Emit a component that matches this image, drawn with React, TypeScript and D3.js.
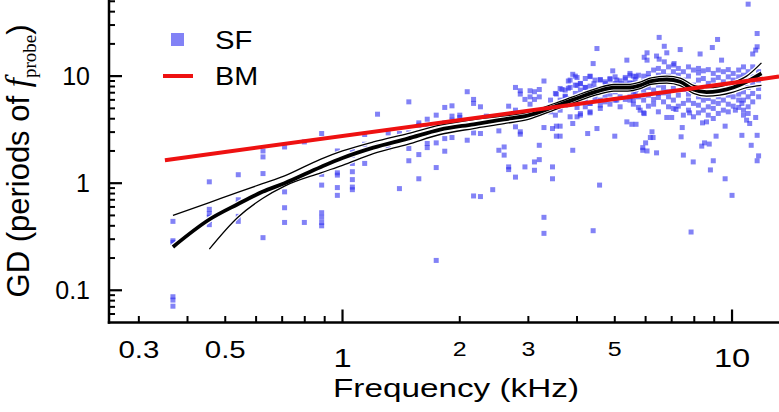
import * as d3 from "d3";
import { useEffect, useRef } from "react";

// SF group delay, grouped by probe frequency (kHz) -> GD values (periods of f_probe)
const sfSparseLow: [number, number[]][] = [
  [0.367, [0.44, 0.29, 0.28, 0.087, 0.081, 0.071]],
  [0.455, [1.03, 0.57, 0.52, 0.48, 0.45, 0.41]],
  [0.54, [1.2, 0.7, 0.65, 0.49, 0.44]],
  [0.625, [2.0, 1.76, 1.23, 0.31]],
  [0.71, [2.18, 0.83, 0.59, 0.43]],
  [0.798, [2.43, 0.43]],
  [0.884, [2.91, 1.21, 0.96, 0.53, 0.48, 0.43, 0.4]],
  [0.97, [2.0, 1.25, 1.19, 0.91, 0.77]],
  [1.06, [2.03, 1.83, 1.53, 1.28, 1.08, 0.92, 0.87]],
  [1.14, [2.85, 2.31, 1.53]],
  [1.23, [4.41, 2.22]],
  [1.31, [2.95, 2.11]],
  [1.4, [2.91, 0.89]],
  [1.48, [5.75, 2.95, 2.11, 1.62]],
  [1.57, [3.66, 3.48, 1.85, 1.1]],
  [1.65, [3.96, 3.41, 2.35, 2.15]],
  [1.74, [4.32, 3.41, 2.38, 1.4, 0.19]],
  [1.83, [5.1, 3.66, 2.61, 1.99]],
  [1.91, [5.28, 4.23, 3.88, 2.67]],
  [2.0, [4.32, 4.11]],
  [2.09, [7.15, 3.82, 2.52]],
  [2.17, [6.06, 5.56, 2.95, 0.76]],
  [2.26, [5.17, 2.91, 0.75]],
  [2.34, [4.23]],
  [2.43, [0.87]],
  [2.52, [3.08, 2.03]],
  [2.6, [2.18, 1.83]],
  [2.67, [5.24, 1.42, 1.34]],
];

const sfSparseMid: [number, number[]][] = [
  [2.78, [7.84, 4.81, 3.36, 1.14]],
  [2.86, [7.3, 6.8, 3.02, 2.87]],
  [2.94, [6.06, 1.42]],
  [3.03, [7.3, 6.4, 5.47]],
  [3.11, [7.15, 6.06, 1.58, 1.32]],
  [3.2, [7.5, 6.4, 2.26, 1.66]],
  [3.29, [9.0, 3.31, 0.48, 0.34]],
  [3.46, [3.24, 1.42, 1.1]],
  [3.54, [6.8, 3.41, 2.75]],
  [3.62, [3.41, 2.75]],
  [3.66, [7.5]],
  [3.73, [6.5, 5.56]],
  [3.8, [9.0, 7.7]],
  [3.9, [10.4, 3.61, 2.03]],
  [4.0, [9.7, 8.2, 5.97, 5.1, 4.17]],
  [4.08, [8.5, 6.4, 4.47]],
  [4.2, [7.84, 5.97]],
  [4.26, [2.91]],
  [4.32, [9.9, 5.56, 4.54]],
  [4.4, [13.1, 0.36]],
  [4.42, [8.5, 7.4]],
  [4.5, [18.1, 3.24]],
  [4.57, [0.96]],
  [4.59, [9.3, 5.35]],
  [4.73, [8.5]],
  [4.86, [9.5, 7.95]],
  [4.94, [11.2]],
  [5.0, [2.75]],
  [5.06, [9.2, 5.97]],
  [5.2, [8.5]],
  [5.32, [9.4]],
  [5.37, [14.1, 3.74]],
  [5.47, [10.6, 8.5, 6.4]],
  [5.67, [9.9, 7.5, 3.55]],
];

const sfSparseHigh: [number, number[]][] = [
  [5.53, [3.55]],
  [5.81, [4.81]],
  [5.9, [2.15, 2.03]],
  [5.95, [15.0, 4.47]],
  [6.0, [2.38]],
  [6.05, [16.5, 14.1, 2.0]],
  [6.17, [2.67]],
  [6.23, [3.02]],
  [6.27, [2.67]],
  [6.4, [15.4, 1.92]],
  [6.5, [23.0, 14.4]],
  [6.7, [19.0, 13.6]],
  [6.8, [16.5, 4.11]],
  [7.0, [4.11]],
  [7.1, [13.1]],
  [7.18, [4.88]],
  [7.36, [17.7]],
  [7.4, [2.71]],
  [7.45, [3.31]],
  [7.5, [1.83]],
  [7.78, [4.54]],
  [7.85, [0.35]],
  [7.95, [1.58]],
  [8.28, [16.1]],
  [8.36, [2.22]],
  [8.4, [3.66]],
  [8.5, [2.38]],
  [8.6, [3.74]],
  [8.74, [2.32]],
  [8.8, [1.33]],
  [8.9, [18.5]],
  [8.95, [1.62]],
  [9.1, [2.75]],
  [9.18, [22.0]],
  [9.4, [14.1]],
  [9.6, [3.41, 1.1]],
  [10.0, [0.77]],
  [10.2, [4.81]],
  [10.6, [5.56, 2.8]],
  [10.7, [4.32]],
  [10.9, [3.88]],
  [11.0, [47.0]],
  [11.1, [3.61]],
  [11.2, [2.26]],
  [11.3, [16.1]],
  [11.5, [17.5, 4.11]],
  [11.6, [25.0, 18.8, 2.8, 1.62]],
  [11.7, [1.8]],
];

// the crowded cloud around the trend, 3.4 - 5.7 kHz
const sfDenseMid: [number, number[]][] = [
  [3.42, [5.97, 4.64]],
  [3.52, [6.89, 5.17, 4.32]],
  [3.62, [7.67, 5.97, 4.81]],
  [3.73, [7.4, 6.41, 5.35]],
  [3.84, [9.18, 7.84, 6.19, 4.17]],
  [3.96, [10.0, 8.24, 6.89, 5.56]],
  [4.08, [8.55, 7.4, 5.97, 4.32]],
  [4.2, [9.5, 7.84, 6.41, 5.17]],
  [4.32, [10.0, 8.07, 6.89, 5.56, 4.64]],
  [4.45, [9.18, 7.67, 6.19]],
  [4.59, [9.18, 7.51, 5.97, 4.99]],
  [4.72, [8.85, 7.84, 6.64, 5.75]],
  [4.86, [9.3, 8.24, 6.79, 5.47]],
  [5.01, [9.85, 8.55, 7.13, 5.97]],
  [5.16, [9.03, 7.84, 6.41, 5.17]],
  [5.32, [9.72, 8.42, 7.4, 6.06]],
  [5.47, [10.2, 8.67, 7.67, 5.97]],
  [5.64, [9.3, 8.07, 6.79]],
];

// the crowded cloud, 5.5 - 12 kHz
const sfDenseHigh: [number, number[]][] = [
  [5.58, [10.0, 8.55, 7.13, 5.97, 5.47]],
  [5.75, [10.2, 7.94, 6.41, 5.1]],
  [5.93, [10.0, 8.85, 7.4, 5.97, 4.54]],
  [6.1, [10.6, 9.72, 7.84, 6.64, 5.24]],
  [6.29, [11.4, 9.18, 7.4, 6.06, 5.47]],
  [6.47, [11.8, 10.2, 8.24, 6.89, 6.32, 4.64]],
  [6.67, [11.0, 7.84, 6.98, 5.75]],
  [6.87, [12.2, 10.0, 7.13, 6.41, 5.17]],
  [7.07, [12.7, 11.0, 7.67, 5.97, 4.99]],
  [7.28, [11.8, 10.2, 8.55, 6.64, 5.24]],
  [7.5, [11.0, 9.18, 7.51, 5.56, 4.32]],
  [7.73, [12.2, 10.0, 6.79, 5.97, 4.81]],
  [7.96, [11.4, 8.24, 7.13, 5.56, 4.17]],
  [8.2, [11.8, 10.7, 9.18, 6.41, 5.35, 4.54]],
  [8.44, [11.2, 9.5, 7.67, 6.89, 5.97, 4.81]],
  [8.69, [11.5, 8.55, 7.13, 6.19, 5.17, 4.32]],
  [8.95, [10.6, 9.18, 7.67, 6.79, 5.75, 4.99, 4.02]],
  [9.22, [11.4, 9.72, 7.4, 6.41, 5.56, 4.48]],
  [9.5, [11.0, 8.85, 7.13, 5.97, 4.81]],
  [9.78, [11.5, 9.85, 7.94, 6.64, 5.47, 4.64]],
  [10.07, [10.6, 9.18, 7.84, 6.41, 5.24]],
  [10.4, [11.4, 9.85, 8.24, 6.79, 5.97, 5.1]],
  [10.7, [12.2, 10.2, 8.55, 7.13, 5.97, 4.81]],
  [11.0, [11.0, 9.18, 7.84, 6.41, 5.17, 4.48]],
  [11.3, [12.2, 9.85, 8.42, 6.89, 5.75]],
  [11.7, [11.0, 9.18, 7.67, 6.41]],
];

// BM: straight power-law fit (end points)
const bmFreq = [0.35, 13.2];
const bmGD = [1.64, 9.9];

// SF trend (thick) with its confidence limits (thin)
const trendFreq = [0.367, 0.455, 0.538, 0.623, 0.71, 0.88, 1.0, 1.2, 1.47, 1.78, 2.17, 2.6, 3.0, 3.5, 3.9, 4.5, 4.97, 5.4, 5.81, 6.2, 6.8, 7.36, 7.96, 8.6, 9.3, 10.07, 10.9, 11.9];
const trendMean = [0.254, 0.458, 0.636, 0.83, 1.0, 1.42, 1.72, 2.15, 2.61, 3.17, 3.55, 3.95, 4.3, 5.2, 6.0, 7.2, 7.8, 7.8, 8.2, 9.0, 9.3, 8.85, 7.5, 7.1, 7.3, 7.84, 8.85, 10.6];
const trendUpper = [0.5, 0.66, 0.82, 0.99, 1.17, 1.68, 2.0, 2.43, 2.91, 3.48, 3.93, 4.25, 4.6, 5.55, 6.4, 7.7, 8.35, 8.35, 8.8, 9.65, 10.0, 9.6, 8.2, 7.8, 8.0, 8.7, 10.0, 13.3];
const trendLower = [NaN, 0.242, 0.478, 0.72, 0.94, 1.25, 1.47, 1.89, 2.31, 2.85, 3.24, 3.6, 3.95, 4.85, 5.6, 6.7, 7.25, 7.25, 7.65, 8.4, 8.6, 8.15, 6.9, 6.5, 6.65, 7.1, 7.8, 8.2];

const xMajorTicks = [1, 10];
const xMinorTicks = [0.3, 0.4, 0.5, 0.6, 0.7, 0.8, 0.9, 2, 3, 4, 5, 6, 7, 8, 9];
const xTickLabels = [0.3, 0.5, 1, 2, 3, 5, 10];
const yMajorTicks = [0.1, 1, 10];
const yMinorTicks = [0.06, 0.07, 0.08, 0.09, 0.2, 0.3, 0.4, 0.5, 0.6, 0.7, 0.8, 0.9, 2, 3, 4, 5, 6, 7, 8, 9, 20, 30, 40, 50];
const yTickLabels = ["0.1", "1", "10"];

export default function App() {
  const ref = useRef<SVGSVGElement>(null);

  useEffect(() => {
    const width = 779;
    const height = 412;
    const left = 109;
    const right = 779;
    const bottom = 322.5;

    const svg = d3.select(ref.current);
    svg.selectAll("*").remove();
    svg.attr("width", width).attr("height", height);

    const x = d3.scaleLog().domain([0.25, 13.2]).range([108, right]);
    const y = d3.scaleLog().domain([0.05, 51.4]).range([bottom, 0]);

    const font = "'Liberation Sans', Arial, sans-serif";
    const serif = "'Liberation Serif', 'DejaVu Serif', serif";
    const blue = "#2f2ff0";

    /* ---------------- SCATTER ---------------- */
    const sfPoints = [...sfSparseLow, ...sfSparseMid, ...sfSparseHigh, ...sfDenseMid, ...sfDenseHigh]
      .flatMap(([f, gds]) => gds.map(g => [f, g] as [number, number]));

    svg.append("g")
      .selectAll("rect")
      .data(sfPoints)
      .enter()
      .append("rect")
      .attr("x", d => x(d[0]) - 2.5)
      .attr("y", d => y(d[1]) - 2.5)
      .attr("width", 5)
      .attr("height", 5)
      .attr("fill", blue)
      .attr("fill-opacity", 0.6);

    /* ---------------- TREND BUNDLE ---------------- */
    const trend = trendFreq.map((f, i) => ({
      f,
      mean: trendMean[i],
      upper: trendUpper[i],
      lower: trendLower[i],
    }));
    const lineFor = (key: "mean" | "upper" | "lower") =>
      d3.line<any>()
        .defined(d => !isNaN(d[key]))
        .x(d => x(d.f))
        .y(d => y(d[key]))
        .curve(d3.curveMonotoneX);

    const bands: { key: "mean" | "upper" | "lower"; w: number }[] = [
      { key: "upper", w: 1.3 },
      { key: "lower", w: 1.3 },
      { key: "mean", w: 3.8 },
    ];
    const tg = svg.append("g").attr("fill", "none");
    bands.forEach(b => {
      tg.append("path")
        .attr("d", lineFor(b.key)(trend))
        .attr("stroke", "#fff")
        .attr("stroke-width", b.w + 2.4);
    });
    bands.forEach(b => {
      tg.append("path")
        .attr("d", lineFor(b.key)(trend))
        .attr("stroke", "#000")
        .attr("stroke-width", b.w);
    });

    /* ---------------- BM LINE ---------------- */
    svg.append("path")
      .datum(bmFreq.map((f, i) => [f, bmGD[i]] as [number, number]))
      .attr("d", d3.line<[number, number]>().x(d => x(d[0])).y(d => y(d[1])))
      .attr("fill", "none")
      .attr("stroke", "#ee1111")
      .attr("stroke-width", 4);

    /* ---------------- AXES ---------------- */
    const ax = svg.append("g").attr("stroke", "#000");
    ax.append("line").attr("x1", left).attr("x2", left).attr("y1", 0).attr("y2", bottom + 1.2).attr("stroke-width", 2.5);
    ax.append("line").attr("x1", left - 1.2).attr("x2", right).attr("y1", bottom).attr("y2", bottom).attr("stroke-width", 2.5);

    ax.selectAll(".ymaj").data(yMajorTicks).enter().append("line")
      .attr("x1", left).attr("x2", left + 13).attr("y1", d => y(d)).attr("y2", d => y(d)).attr("stroke-width", 2.2);
    ax.selectAll(".ymin").data(yMinorTicks).enter().append("line")
      .attr("x1", left).attr("x2", left + 6).attr("y1", d => y(d)).attr("y2", d => y(d)).attr("stroke-width", 2);
    ax.selectAll(".xmaj").data(xMajorTicks).enter().append("line")
      .attr("x1", d => x(d)).attr("x2", d => x(d)).attr("y1", bottom).attr("y2", bottom - 13).attr("stroke-width", 2.2);
    ax.selectAll(".xmin").data(xMinorTicks).enter().append("line")
      .attr("x1", d => x(d)).attr("x2", d => x(d)).attr("y1", bottom).attr("y2", bottom - 6.5).attr("stroke-width", 2);

    /* ---------------- TICK LABELS ---------------- */
    svg.append("g")
      .selectAll("text")
      .data(yTickLabels)
      .enter()
      .append("text")
      .attr("x", 90)
      .attr("y", d => y(+d) + 9)
      .attr("text-anchor", "end")
      .attr("font-family", font)
      .attr("font-size", 25)
      .text(d => d);

    svg.append("g")
      .selectAll("text")
      .data(xTickLabels)
      .enter()
      .append("text")
      .attr("transform", d => {
        const big = d === 1 || d === 10;
        const base = big ? 366.5 : d < 1 ? 358 : 356;
        return `translate(${x(d)},${base}) scale(1.28,1)`;
      })
      .attr("text-anchor", "middle")
      .attr("font-family", font)
      .attr("font-size", d => (d === 1 || d === 10 ? 25.5 : d < 1 ? 23 : 19.5))
      .text(d => String(d));

    /* ---------------- AXIS TITLES ---------------- */
    svg.append("text")
      .attr("transform", "translate(456,397) scale(1.28,1)")
      .attr("text-anchor", "middle")
      .attr("font-family", font)
      .attr("font-size", 26)
      .text("Frequency (kHz)");

    // rotated title, centred on the plot height
    const yt = svg.append("text")
      .attr("transform", "translate(29,161) rotate(-90)")
      .attr("text-anchor", "middle")
      .attr("font-family", font)
      .attr("font-size", 31);
    yt.append("tspan").text("GD (periods of ");
    yt.append("tspan")
      .attr("font-family", serif)
      .attr("font-style", "italic")
      .attr("font-size", 33)
      .text("f");
    yt.append("tspan")
      .attr("font-family", serif)
      .attr("font-size", 19)
      .attr("dy", 7)
      .text("probe");
    yt.append("tspan").attr("dy", -7).text(")");

    /* ---------------- LEGEND ---------------- */
    svg.append("rect")
      .attr("x", 171).attr("y", 33).attr("width", 13).attr("height", 13)
      .attr("fill", blue).attr("fill-opacity", 0.6);
    svg.append("line")
      .attr("x1", 163).attr("x2", 193).attr("y1", 76).attr("y2", 76)
      .attr("stroke", "#ee1111").attr("stroke-width", 4);
    svg.append("text")
      .attr("transform", "translate(215,49) scale(1.17,1)")
      .attr("font-family", font).attr("font-size", 25).text("SF");
    svg.append("text")
      .attr("transform", "translate(215,85) scale(1.15,1)")
      .attr("font-family", font).attr("font-size", 25).text("BM");
  }, []);

  return (
    <svg
      ref={ref}
      style={{ position: "absolute", left: 0, top: 0, background: "#fff", overflow: "visible" }}
    />
  );
}
